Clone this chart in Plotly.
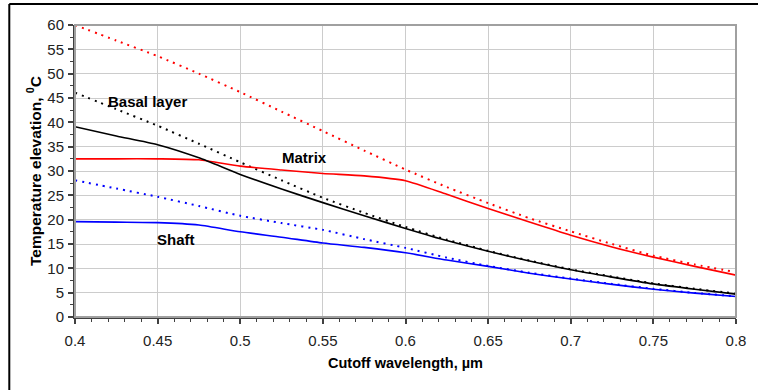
import plotly.graph_objects as go

wavelength = [0.4, 0.425, 0.45, 0.475, 0.5, 0.525, 0.55, 0.575, 0.6,
              0.625, 0.65, 0.675, 0.7, 0.725, 0.75, 0.775, 0.8]

matrix_solid = [32.5, 32.5, 32.5, 32.3, 31.0, 30.2, 29.5, 29.0, 28.0,
                25.2, 22.3, 19.5, 16.8, 14.4, 12.3, 10.4, 8.6]
matrix_dotted = [60.0, 56.8, 53.6, 50.0, 46.2, 42.2, 38.2, 34.2, 30.3,
                 26.7, 23.4, 20.3, 17.6, 15.0, 12.6, 10.8, 9.2]
basal_solid = [39.1, 37.2, 35.4, 32.7, 29.3, 26.3, 23.5, 20.8, 18.2,
               15.7, 13.5, 11.5, 9.7, 8.2, 6.8, 5.7, 4.7]
basal_dotted = [46.1, 42.7, 39.3, 35.6, 31.8, 28.1, 24.5, 21.4, 18.5,
                15.9, 13.6, 11.6, 9.8, 8.3, 6.9, 5.8, 4.8]
shaft_solid = [19.6, 19.5, 19.4, 18.9, 17.5, 16.4, 15.2, 14.3, 13.2,
               11.7, 10.4, 9.0, 7.8, 6.7, 5.7, 4.9, 4.2]
shaft_dotted = [28.1, 26.4, 24.7, 22.8, 20.8, 19.3, 17.9, 16.0, 14.2,
                12.2, 10.5, 9.1, 7.9, 6.8, 5.8, 4.95, 4.25]

labels = ["Basal layer", "Matrix", "Shaft"]
label_x = [0.444, 0.5387, 0.461]
label_y = [44.2, 32.8, 16.0]

fig = go.Figure()

series = [
    (matrix_dotted, "#ff0000", "2px,5px"),
    (basal_dotted, "#000000", "2px,5px"),
    (shaft_dotted, "#0000ff", "2px,5px"),
    (matrix_solid, "#ff0000", "solid"),
    (basal_solid, "#000000", "solid"),
    (shaft_solid, "#0000ff", "solid"),
]
for ys, col, dash in series:
    fig.add_trace(go.Scatter(
        x=wavelength, y=ys, mode="lines",
        line=dict(color=col, width=1.6 if dash == "solid" else 2.0,
                  dash=dash, shape="spline", smoothing=0.6),
        showlegend=False, hoverinfo="skip"))

for t, xx, yy in zip(labels, label_x, label_y):
    fig.add_annotation(x=xx, y=yy, text="<b>%s</b>" % t, showarrow=False,
                       font=dict(family="Liberation Sans, Arial", size=15, color="#000000"))

# plot-area border (grey) and outer frame (black)
fig.add_shape(type="rect", xref="paper", yref="paper", x0=0, y0=0, x1=1, y1=1,
              line=dict(color="#a0a0a0", width=2), layer="above")
fig.add_shape(type="line", xref="paper", yref="paper", x0=-0.0994, x1=-0.0994,
              y0=-0.3, y1=1.072, line=dict(color="#000000", width=2))
fig.add_shape(type="line", xref="paper", yref="paper", x0=-0.0994, x1=1.1,
              y0=1.072, y1=1.072, line=dict(color="#000000", width=2))

axis_font = dict(family="Liberation Sans, Arial", size=15, color="#222222")
fig.update_layout(
    width=758, height=390,
    margin=dict(l=75, r=19, t=25, b=73),
    paper_bgcolor="white", plot_bgcolor="white",
    font=dict(family="Liberation Sans, Arial", color="#000000"),
    xaxis=dict(
        range=[0.4, 0.8], dtick=0.05, tick0=0.4,
        showgrid=True, gridcolor="#cccccc", gridwidth=1,
        showline=True, linecolor="#404040", linewidth=2,
        ticks="outside", ticklen=5, tickwidth=1.5, tickcolor="#404040",
        minor=dict(dtick=0.01, ticks="outside", ticklen=3, tickcolor="#404040",
                   tickwidth=1, showgrid=False),
        tickfont=axis_font, zeroline=False,
        tickformat="~g", ticklabelstandoff=4,
        title=dict(text="<b>Cutoff wavelength, µm</b>",
                   font=dict(family="Liberation Sans, Arial", size=14.5, color="#000000"),
                   standoff=10),
    ),
    yaxis=dict(
        range=[0, 60], dtick=5,
        showgrid=True, gridcolor="#cccccc", gridwidth=1,
        showline=True, linecolor="#404040", linewidth=2,
        ticks="outside", ticklen=5, tickwidth=1.5, tickcolor="#404040",
        minor=dict(dtick=2.5, ticks="outside", ticklen=3, tickcolor="#404040",
                   tickwidth=1, showgrid=False),
        tickfont=axis_font, zeroline=False, ticklabelstandoff=1,
        title=dict(text="<b>Temperature elevation, <sup>0</sup>C</b>",
                   font=dict(family="Liberation Sans, Arial", size=15.5, color="#000000"),
                   standoff=2),
    ),
)

fig.write_html("out.html")
